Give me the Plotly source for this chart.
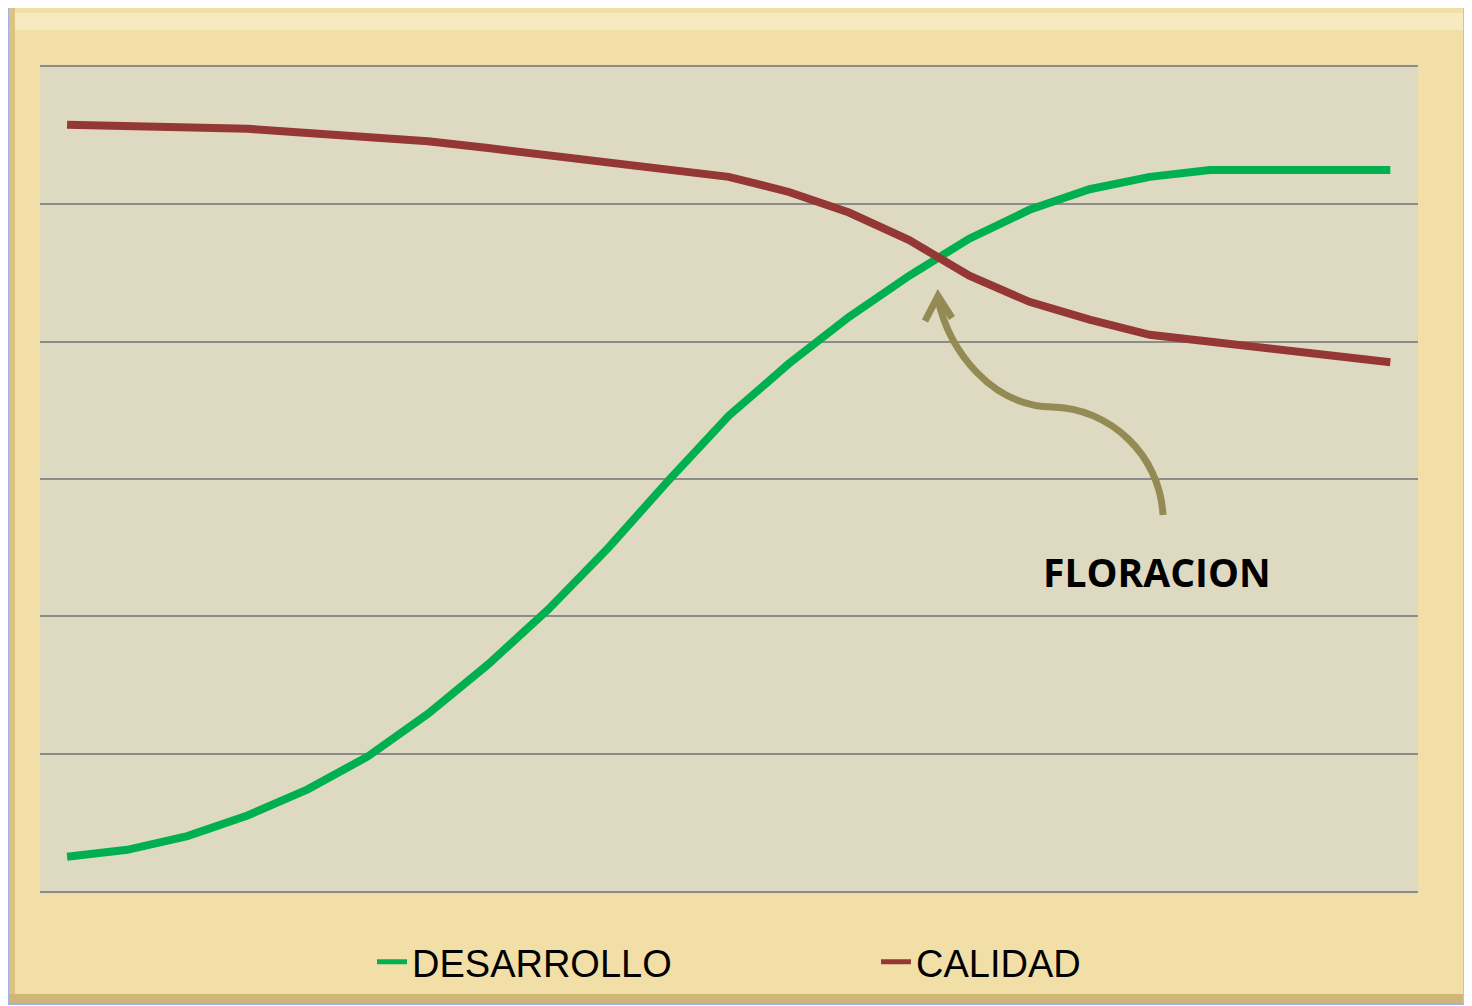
import plotly.graph_objects as go

# ---- data ----
periodos = list(range(23))
desarrollo = [0.25, 0.30, 0.40, 0.55, 0.74, 0.98, 1.29, 1.65, 2.05, 2.50, 2.99, 3.46,
              3.84, 4.18, 4.48, 4.75, 4.96, 5.11, 5.20, 5.25, 5.25, 5.25, 5.25]
calidad = [5.58, 5.57, 5.56, 5.55, 5.52, 5.49, 5.46, 5.41, 5.36, 5.31, 5.25, 5.20,
           5.09, 4.94, 4.74, 4.48, 4.29, 4.16, 4.05, 4.00, 3.95, 3.90, 3.85]
series_names = ["DESARROLLO", "CALIDAD"]
anotacion = "FLORACION"

# page body adds an 8px margin; compensate
OFF = 8
W, H = 1472 - OFF, 1006 - OFF
L, R, T, B = 40, 1418, 67, 891  # plot area in reference pixels


def px(x):
    return (x - L) / (R - L)


def py(y):
    return (B - y) / (B - T)


def path(cmds):
    out = []
    for c in cmds:
        if isinstance(c, str):
            out.append(c)
        else:
            out.append(f"{px(c[0]):.5f},{py(c[1]):.5f}")
    return " ".join(out)


fig = go.Figure()
fig.add_trace(go.Scatter(x=periodos, y=desarrollo, mode="lines", name=series_names[0],
                         line=dict(color="#00B050", width=8)))
fig.add_trace(go.Scatter(x=periodos, y=calidad, mode="lines", name=series_names[1],
                         line=dict(color="#953735", width=8)))

shapes = [
    # parchment frame
    dict(type="rect", xref="paper", yref="paper", layer="below",
         x0=px(8), x1=px(1470), y0=py(1004), y1=py(5),
         fillcolor="#F2DFA8", line=dict(color="#9DB3E6", width=2)),
    dict(type="rect", xref="paper", yref="paper", layer="below",
         x0=px(10), x1=px(1468), y0=py(30), y1=py(13),
         fillcolor="#F8EAC0", line=dict(width=0)),
    dict(type="rect", xref="paper", yref="paper", layer="below",
         x0=px(9), x1=px(15), y0=py(1003), y1=py(6),
         fillcolor="#DCC283", line=dict(width=0)),
    dict(type="rect", xref="paper", yref="paper", layer="below",
         x0=px(9), x1=px(1469), y0=py(1003), y1=py(994),
         fillcolor="#CFB577", line=dict(width=0)),
    dict(type="rect", xref="paper", yref="paper", layer="below",
         x0=px(1463), x1=px(1469), y0=py(1003), y1=py(6),
         fillcolor="#DCC283", line=dict(width=0)),
    # plot area
    dict(type="rect", xref="paper", yref="paper", layer="below",
         x0=0, x1=1, y0=0, y1=1, fillcolor="#DEDAC2", line=dict(width=0)),
    # curved arrow
    dict(type="path", xref="paper", yref="paper", layer="above",
         path=path(["M", (1163, 515), "C", (1160, 455), (1110, 408), (1052, 407),
                    "C", (992, 406), (950, 352), (938, 300)]),
         line=dict(color="#948A54", width=7)),
    dict(type="path", xref="paper", yref="paper", layer="above",
         path=path(["M", (925, 321), "L", (938, 296), "L", (952, 318)]),
         line=dict(color="#948A54", width=7)),
]

fig.update_layout(
    width=W, height=H,
    margin=dict(l=L - OFF, r=W - (R - OFF), t=T - OFF, b=H - (B - OFF)),
    paper_bgcolor="white",
    plot_bgcolor="#DEDAC2",
    shapes=shapes,
    showlegend=True,
    legend=dict(orientation="h", x=px(372), xanchor="left", y=py(962), yanchor="middle",
                font=dict(family="Liberation Sans, sans-serif", size=38, color="black"),
                entrywidth=459, entrywidthmode="pixels",
                bgcolor="rgba(0,0,0,0)", itemsizing="constant"),
    xaxis=dict(range=[-0.45, 22.46], showgrid=False, showticklabels=False,
               zeroline=False, ticks="", showline=True, mirror=True,
               linecolor="#8C8C8C", linewidth=2),
    yaxis=dict(range=[0, 6], dtick=1, showgrid=True, gridcolor="#8C8C8C", gridwidth=2,
               showticklabels=False, zeroline=False, ticks="", showline=False),
    annotations=[dict(text=f"<b>{anotacion}</b>", xref="paper", yref="paper",
                      x=px(1157), y=py(571), xanchor="center", yanchor="middle",
                      showarrow=False,
                      font=dict(family="Open Sans, sans-serif", size=39, color="black"))],
)

fig.write_html("out.html")
